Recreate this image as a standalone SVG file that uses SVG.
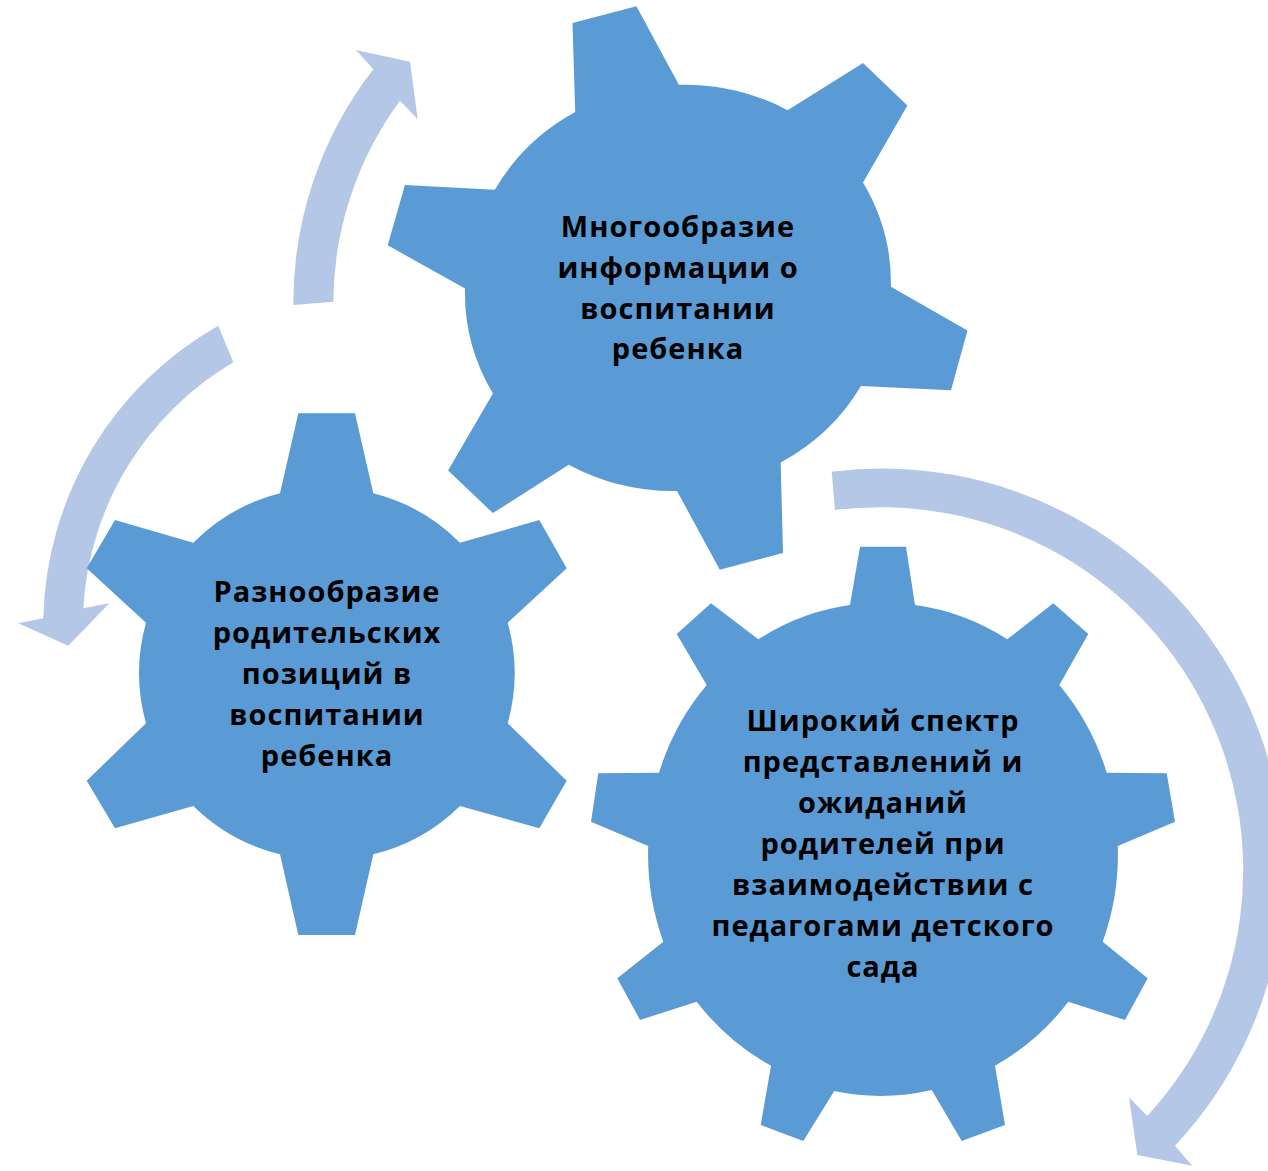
<svg xmlns="http://www.w3.org/2000/svg" width="1268" height="1171" viewBox="0 0 1268 1171">
  <style>
    .gear { fill: #5B9BD5; }
    .arrow { fill: #B4C7E7; }
    .label { font-family: "Open Sans", "Liberation Sans", sans-serif; font-weight: 700; font-size: 29px; letter-spacing: 1px; fill: #000000; text-anchor: middle; }
  </style>
  <rect width="1268" height="1171" fill="#FFFFFF"/>
  <g id="connectors">
    <path class="arrow" d="M 293.3,305 A 382 382 0 0 1 373.3,69.3 L 356,50 L 410,61.7 L 417.7,119.3 L 400,100.7 A 342 342 0 0 0 333.3,301.7 Z"/>
    <path class="arrow" d="M 218.3,325.7 A 345 345 0 0 0 43.3,618.3 L 18.3,623.3 L 68.3,645.7 L 109.3,603.3 L 83.3,608.3 A 306 306 0 0 1 233.3,362.3 Z"/>
    <path class="arrow" d="M 831.7,471.7 A 402 402 0 0 1 1175,1145.7 L 1192.3,1165.7 L 1137.3,1155 L 1129,1097.3 L 1147.3,1116 A 363 363 0 0 0 835,510 Z"/>
  </g>
  <g id="gear-top">
    <path class="gear" d="M 575.2,112 L 572.5,22.9 L 636.4,6.3 L 678.9,84.7 A 213 203 0 0 1 787.6,110.2 L 863,62.9 L 907.4,105.4 L 863,182.4 A 213 203 0 0 1 890.9,286.7 L 967.5,330.4 L 951,390.3 L 861,385.9 A 213 203 0 0 1 780.7,462.4 L 783,553 L 719.8,569.7 L 677,491 A 213 203 0 0 1 568.7,464.7 L 492.9,513.1 L 448.1,470.6 L 492.9,393.6 A 213 203 0 0 1 465,288.6 L 387.7,245.3 L 404.9,185 L 494.8,189.8 A 213 203 0 0 1 575.2,112 Z"/>
    <text class="label" x="678" y="237">Многообразие</text>
    <text class="label" x="678" y="278">информации о</text>
    <text class="label" x="678" y="319">воспитании</text>
    <text class="label" x="678" y="359">ребенка</text>
  </g>
  <g id="gear-left">
    <path class="gear" d="M 280,493.3 L 298.3,413.3 L 355,413.3 L 373.3,493.3 A 186.5 186.5 0 0 1 460,542.7 L 539.3,520 L 566.7,568.3 L 507.7,622.7 A 186.5 186.5 0 0 1 507.7,723.3 L 566.7,780.7 L 539.3,828.3 L 460,806 A 186.5 186.5 0 0 1 373.3,854.3 L 355,935 L 298.3,935 L 280,854.3 A 186.5 186.5 0 0 1 193.3,806 L 115,828.3 L 86.7,780.7 L 146,723.3 A 186.5 186.5 0 0 1 146,622.7 L 86.7,568.3 L 115,520 L 193.3,542.7 A 186.5 186.5 0 0 1 280,493.3 Z"/>
    <text class="label" x="327" y="602">Разнообразие</text>
    <text class="label" x="327" y="643">родительских</text>
    <text class="label" x="327" y="684">позиций в</text>
    <text class="label" x="327" y="725">воспитании</text>
    <text class="label" x="327" y="766">ребенка</text>
  </g>
  <g id="gear-bottom">
    <path class="gear" d="M 850,605 L 860,546.7 L 906,546.7 L 915,605 A 235 247 0 0 1 1007.3,639.3 L 1053.3,603.3 L 1088.3,634 L 1059.3,685 A 235 247 0 0 1 1106.7,772.7 L 1166.7,773.3 L 1175,821.7 L 1117.8,846 A 235 247 0 0 1 1102.7,941.7 L 1147.7,978.3 L 1125,1020 L 1068.3,1001.7 A 235 247 0 0 1 995,1065.7 L 1005,1125 L 961.7,1141 L 931.7,1090 A 235 247 0 0 1 834.3,1091 L 803.3,1141 L 760.7,1125 L 771,1065.7 A 235 247 0 0 1 696.7,1001.7 L 640,1020 L 617.3,978.3 L 663.3,941.7 A 235 247 0 0 1 648.2,846 L 591,821.7 L 598.3,773.3 L 659,772.7 A 235 247 0 0 1 706.7,685 L 676.7,634 L 711,603.3 L 758.3,639.3 A 235 247 0 0 1 850,605 Z"/>
    <text class="label" x="883" y="731">Широкий спектр</text>
    <text class="label" x="883" y="772">представлений и</text>
    <text class="label" x="883" y="813">ожиданий</text>
    <text class="label" x="883" y="854">родителей при</text>
    <text class="label" x="883" y="895">взаимодействии с</text>
    <text class="label" x="883" y="936">педагогами детского</text>
    <text class="label" x="883" y="977">сада</text>
  </g>
</svg>
